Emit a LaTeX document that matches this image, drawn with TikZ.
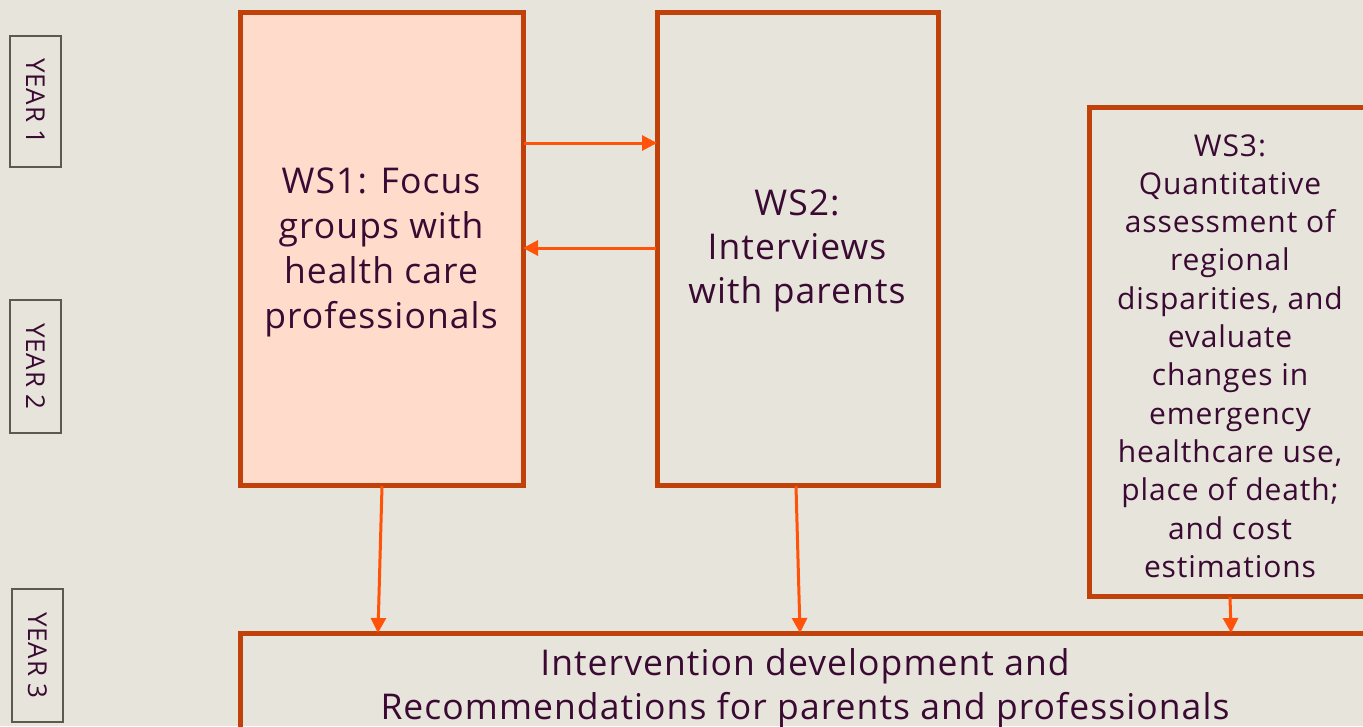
\documentclass[tikz,border=0pt]{standalone}
\usepackage{fontspec}
\setmainfont{Open Sans}[LetterSpace=3]
\usetikzlibrary{arrows.meta}
\definecolor{bg}{HTML}{E7E4DC}
\definecolor{boxline}{HTML}{C0410A}
\definecolor{ws1fill}{HTML}{FFDBCC}
\definecolor{arrowc}{HTML}{FF5309}
\definecolor{txt}{HTML}{3A0A33}
\definecolor{yearline}{HTML}{5C5A4E}
\begin{document}
\begin{tikzpicture}[x=1pt,y=-1pt,
  wsbox/.style={draw=boxline, line width=5pt, rectangle, inner sep=0pt,
    outer sep=0pt, text=txt, align=center, anchor=north west},
  yearbox/.style={draw=yearline, line width=2pt, rectangle, inner sep=0pt,
    outer sep=0pt, anchor=north west},
  yeartext/.style={text=txt, rotate=-90, font=\fontsize{26}{26}\selectfont},
  flow/.style={draw=arrowc, line width=3pt,
    -{Triangle[length=15pt,width=15pt]}, shorten >=-1pt}
]
\useasboundingbox (0,0) rectangle (1363,726);
\fill[bg] (0,0) rectangle (1363,726);
\clip (0,0) rectangle (1363,726);

% year markers on the left
\node[yearbox, minimum width=51pt, minimum height=131pt] (y1) at (10,36) {};
\node[yeartext] at (y1.center) {YEAR 1};
\node[yearbox, minimum width=51pt, minimum height=133pt] (y2) at (10,300) {};
\node[yeartext] at (y2.center) {YEAR 2};
\node[yearbox, minimum width=51pt, minimum height=133pt] (y3) at (12,589) {};
\node[yeartext] at (y3.center) {YEAR 3};

% work streams
\node[wsbox, fill=ws1fill, minimum width=283pt, minimum height=473pt] (ws1) at (240.5,12.5) {};
\node[text=txt, align=center, font=\fontsize{35.5}{45}\selectfont] at (381,252)
  {WS1: Focus\\groups with\\health care\\professionals};

\node[wsbox, minimum width=281pt, minimum height=473pt] (ws2) at (657.5,12.5) {};
\node[text=txt, align=center, font=\fontsize{35.5}{44}\selectfont] at (797,251)
  {WS2:\\Interviews\\with parents};

\node[wsbox, minimum width=300pt, minimum height=489pt] (ws3) at (1089.5,107.5) {};
\node[text=txt, align=center, font=\fontsize{30}{38.3}\selectfont] at (1230,356)
  {WS3:\\Quantitative\\assessment of\\regional\\disparities, and\\evaluate\\changes in\\emergency\\healthcare use,\\place of death;\\and cost\\estimations};

% synthesis
\node[wsbox, minimum width=1160pt, minimum height=120pt] (synth) at (240.5,633.5) {};
\node[text=txt, align=center, font=\fontsize{35.5}{44}\selectfont] at (805,688)
  {Intervention development and\\Recommendations for parents and professionals};

% exchanges between WS1 and WS2
\coordinate (a1s) at (524,143);
\coordinate (a1e) at (656,143);
\coordinate (a2s) at (656,248);
\coordinate (a2e) at (524,248);
\draw[flow] (a1s) -- (a1e);
\draw[flow] (a2s) -- (a2e);

% feeds into the synthesis
\coordinate (d1s) at (382,486);
\coordinate (d1e) at (378,632);
\coordinate (d2s) at (796,486);
\coordinate (d2e) at (800,632);
\coordinate (d3s) at (1230,597);
\coordinate (d3e) at (1231,632);
\draw[flow] (d1s) -- (d1e);
\draw[flow] (d2s) -- (d2e);
\draw[flow] (d3s) -- (d3e);
\end{tikzpicture}
\end{document}
